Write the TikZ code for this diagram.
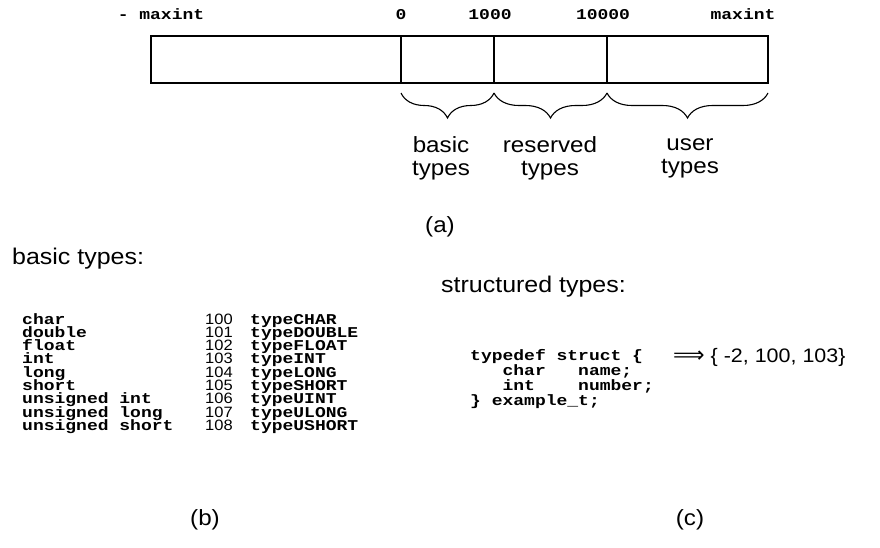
\documentclass[tikz,border=0pt]{standalone}
\usepackage{fontspec}
\setmainfont{Liberation Sans}[FakeStretch=1.1]
\newfontfamily\codefont{Liberation Mono}[FakeStretch=1.2]
\newfontfamily\symfont{DejaVu Sans}
\usetikzlibrary{positioning,decorations.pathreplacing}

\tikzset{
	txt/.style={font=\fontsize{22}{23}\selectfont, align=center, inner sep=0pt},
	head/.style={font=\fontsize{22.7}{23}\selectfont, inner sep=0pt, anchor=west},
	code/.style={font=\codefont\bfseries\fontsize{15}{13.3}\selectfont, inner sep=0pt, text height=7pt, text depth=1pt},
	num/.style={font=\fontsize{15}{13.3}\selectfont, inner sep=0pt, text height=7pt, text depth=1pt},
	brc/.style={decorate, decoration={brace, mirror, amplitude=25pt}, line width=1.1pt}
}

\begin{document}
\begin{tikzpicture}[x=1pt,y=-1pt]
	\useasboundingbox (0,0) rectangle (880,547);
	% range of type ids
	\draw[line width=1.5pt] (151,36) rectangle (768,83);
	\draw[line width=1.5pt] (401,36) -- (401,83) (494,36) -- (494,83) (607,36) -- (607,83);
	\coordinate (b0) at (401,93);
	\coordinate (b1) at (494,93);
	\coordinate (b2) at (607,93);
	\coordinate (b3) at (768,93);
	\node[code] (lo) at (161,16) {- maxint};
	\node[code] (zero) at (401,16) {0};
	\node[code] (k1) at (490,16) {1000};
	\node[code] (k10) at (603,16) {10000};
	\node[code] (hi) at (743,16) {maxint};
	\draw[brc] (b0) -- (b1);
	\draw[brc] (b1) -- (b2);
	\draw[brc] (b2) -- (b3);
	\node[txt] (basic) at (441,158) {basic\\types};
	\node[txt] (reserved) at (550,158) {reserved\\types};
	\node[txt] (user) at (690,158) {user\\types};
	\node[txt] (capa) at (440,227) {(a)};
	% basic types table
	\node[head] (bhead) at (12,259) {basic types:};
	\foreach \t/\n/\c [count=\i from 0] in {char/100/typeCHAR, double/101/typeDOUBLE, float/102/typeFLOAT, int/103/typeINT, long/104/typeLONG, short/105/typeSHORT, unsigned int/106/typeUINT, unsigned long/107/typeULONG, unsigned short/108/typeUSHORT}{
		\node[code, anchor=base west] (t\i) at (22,324+13.3*\i) {\t};
		\node[num, anchor=base west] (n\i) at (205,324+13.3*\i) {\n};
		\node[code, anchor=base west] (c\i) at (250,324+13.3*\i) {\c};
	}
	\node[txt] (capb) at (205,520) {(b)};
	% structured types
	\node[head] (shead) at (441,287) {structured types:};
	\node[code, anchor=west, align=left, text height=, text depth=] (struct) at (470,379) {typedef struct \{\\\ \ \ char\ \ \ name;\\\ \ \ int\ \ \ \ number;\\\} example\_t;};
	\node[txt, anchor=west, font=\fontsize{19.5}{20}\selectfont] (ids) at (673,357) {{\symfont\fontsize{22}{22}\selectfont ⟹} \{ -2, 100, 103\}};
	\node[txt] (capc) at (690,520) {(c)};
\end{tikzpicture}
\end{document}
